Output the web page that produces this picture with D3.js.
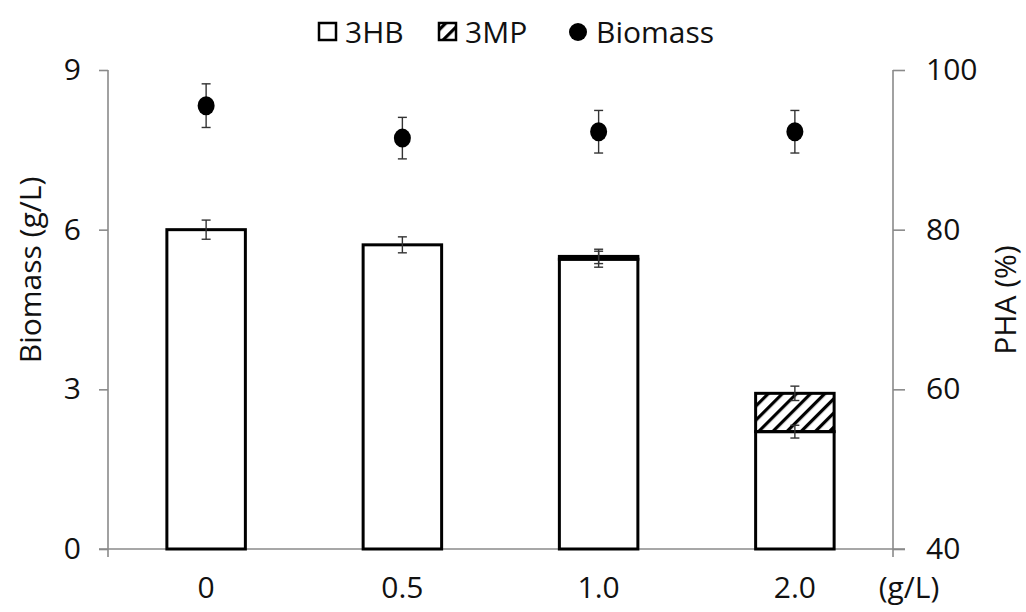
<!DOCTYPE html>
<html>
<head>
<meta charset="utf-8">
<script src="https://cdn.jsdelivr.net/npm/d3@7"></script>
<style>
	body { margin: 0; background: #fff; }
	text { font-family: 'Open Sans', sans-serif; fill: #111; }
</style>
</head>
<body>
<div id="chart"></div>
<script>
// sodium propionate (g/L) on the x axis
var categories = ['0', '0.5', '1.0', '2.0'];
// PHA content (%), stacked
var hb = [80.0, 78.1, 76.3, 54.7];
var mp = [0, 0, 0.35, 4.8];
var hbErr = [1.2, 1.0, 1.0, 0.8];
var totalErr = [null, null, 0.9, 0.9];
// biomass (g/L)
var biomass = [8.33, 7.72, 7.84, 7.84];
var biomassErr = [0.41, 0.39, 0.40, 0.40];
var leftTicks = [0, 3, 6, 9];
var rightTicks = [40, 60, 80, 100];

var w = 1026, h = 612;
var plot = {left: 108, right: 893, top: 70, bottom: 549};
var fontSize = '30px';

var svg = d3.select('#chart').append('svg')
	.attr('width', w)
	.attr('height', h);

var defs = svg.append('defs');
defs.append('pattern')
	.attr('id', 'hatch')
	.attr('patternUnits', 'userSpaceOnUse')
	.attr('width', 10)
	.attr('height', 10)
	.attr('patternTransform', 'rotate(45)')
	.append('rect')
	.attr('x', 0).attr('y', 0)
	.attr('width', 3.2).attr('height', 10)
	.attr('fill', '#000');

var x = d3.scaleBand().domain(categories).range([plot.left, plot.right]);
var yL = d3.scaleLinear().domain([0, 9]).range([plot.bottom, plot.top]);
var yR = d3.scaleLinear().domain([40, 100]).range([plot.bottom, plot.top]);
var barW = x.bandwidth() * 0.4;

// axes
var gL = svg.append('g')
	.attr('transform', 'translate(' + plot.left + ',0)')
	.call(d3.axisLeft(yL).tickValues(leftTicks).tickSize(9).tickPadding(18));
var gR = svg.append('g')
	.attr('transform', 'translate(' + plot.right + ',0)')
	.call(d3.axisRight(yR).tickValues(rightTicks).tickSize(12).tickPadding(21));
[gL, gR].forEach(function(g) {
	g.selectAll('.domain').attr('stroke', '#8a8a8a').attr('stroke-width', 1.6)
		.attr('d', 'M0,' + plot.top + 'V' + (plot.bottom + 8));
	g.selectAll('.tick line').attr('stroke', '#8a8a8a').attr('stroke-width', 1.6);
	g.selectAll('.tick text').style('font-size', fontSize).attr('fill', '#111');
});

// x baseline
svg.append('line')
	.attr('x1', plot.left - 9).attr('x2', plot.right + 12)
	.attr('y1', plot.bottom).attr('y2', plot.bottom)
	.attr('stroke', '#8a8a8a').attr('stroke-width', 1.6);

// bars
var bars = svg.append('g');
categories.forEach(function(c, i) {
	var bx = x(c) + x.bandwidth() / 2 - barW / 2;
	bars.append('rect')
		.attr('x', bx)
		.attr('y', yR(hb[i]))
		.attr('width', barW)
		.attr('height', yR(40) - yR(hb[i]))
		.attr('fill', '#fff')
		.attr('stroke', '#000')
		.attr('stroke-width', 3);
	if (mp[i] > 0) {
		bars.append('rect')
			.attr('x', bx)
			.attr('y', yR(hb[i] + mp[i]))
			.attr('width', barW)
			.attr('height', yR(hb[i]) - yR(hb[i] + mp[i]))
			.attr('fill', 'url(#hatch)')
			.attr('stroke', '#000')
			.attr('stroke-width', 3);
	}
});

var drawErr = function(cx, y0, y1, cap) {
	var g = svg.append('g').attr('stroke', '#333').attr('stroke-width', 1.4);
	g.append('line').attr('x1', cx).attr('x2', cx).attr('y1', y0).attr('y2', y1);
	g.append('line').attr('x1', cx - cap).attr('x2', cx + cap).attr('y1', y0).attr('y2', y0);
	g.append('line').attr('x1', cx - cap).attr('x2', cx + cap).attr('y1', y1).attr('y2', y1);
};

categories.forEach(function(c, i) {
	var cx = x(c) + x.bandwidth() / 2;
	drawErr(cx, yR(hb[i] - hbErr[i]), yR(hb[i] + hbErr[i]), 4.5);
	if (totalErr[i] !== null) {
		var t = hb[i] + mp[i];
		drawErr(cx, yR(t - totalErr[i]), yR(t + totalErr[i]), 4.5);
	}
	drawErr(cx, yL(biomass[i] - biomassErr[i]), yL(biomass[i] + biomassErr[i]), 4.5);
	svg.append('ellipse')
		.attr('cx', cx).attr('cy', yL(biomass[i]))
		.attr('rx', 8.5).attr('ry', 9.5)
		.attr('fill', '#000');
});

// x labels
svg.append('g').selectAll('text')
	.data(categories)
	.enter()
	.append('text')
	.attr('x', function(d) { return x(d) + x.bandwidth() / 2; })
	.attr('y', 598)
	.attr('text-anchor', 'middle')
	.style('font-size', fontSize)
	.text(function(d) { return d; });
svg.append('text')
	.attr('x', 909).attr('y', 598)
	.attr('text-anchor', 'middle')
	.style('font-size', fontSize)
	.text('(g/L)');

// axis titles
svg.append('text')
	.attr('transform', 'translate(41,270) rotate(-90)')
	.attr('text-anchor', 'middle')
	.style('font-size', fontSize)
	.text('Biomass (g/L)');
svg.append('text')
	.attr('transform', 'translate(1016,300) rotate(-90)')
	.attr('text-anchor', 'middle')
	.style('font-size', fontSize)
	.text('PHA (%)');

// legend
var lg = svg.append('g');
lg.append('rect').attr('x', 319).attr('y', 23).attr('width', 17).attr('height', 17)
	.attr('fill', '#fff').attr('stroke', '#000').attr('stroke-width', 2.5);
lg.append('text').attr('x', 345).attr('y', 43).style('font-size', fontSize).text('3HB');
lg.append('rect').attr('x', 439).attr('y', 23).attr('width', 17).attr('height', 17)
	.attr('fill', 'url(#hatch)').attr('stroke', '#000').attr('stroke-width', 2.5);
lg.append('text').attr('x', 465).attr('y', 43).style('font-size', fontSize).text('3MP');
lg.append('circle').attr('cx', 578).attr('cy', 32).attr('r', 9).attr('fill', '#000');
lg.append('text').attr('x', 596).attr('y', 43).style('font-size', fontSize).text('Biomass');
</script>
</body>
</html>
